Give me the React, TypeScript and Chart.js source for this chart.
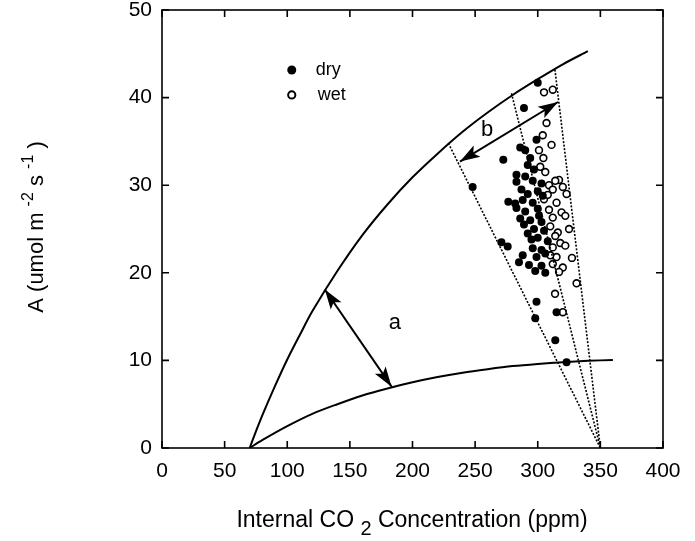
import React, { useEffect, useRef } from "react";
import { Chart, registerables } from "chart.js";
Chart.register(...registerables);

const FONT = "'Liberation Sans', Arial, Helvetica, sans-serif";

const xTicks = [0, 50, 100, 150, 200, 250, 300, 350, 400];
const yTicks = [0, 10, 20, 30, 40, 50];

const upperCurveC = [70, 75, 80, 90, 100, 110, 120, 140, 160, 180, 200, 220, 240, 260, 280, 300, 320, 340];
const upperCurveA = [0, 1.9, 3.7, 7.0, 10.1, 12.9, 15.6, 20.2, 24.3, 27.8, 30.9, 33.6, 36.1, 38.3, 40.3, 42.1, 43.8, 45.3];

const lowerCurveC = [70, 80, 100, 120, 140, 160, 180, 200, 220, 240, 260, 280, 300, 320, 340, 360];
const lowerCurveA = [0, 0.9, 2.5, 3.9, 5.0, 6.0, 6.8, 7.5, 8.1, 8.6, 9.0, 9.35, 9.6, 9.8, 9.95, 10.05];

const dottedTopC = [228.6, 279, 313.7];
const dottedTopA = [34.8, 40.5, 43.2];
const dottedBaseC = 350;
const dottedBaseA = 0;

const dryC = [300, 289, 299, 286, 290, 272.5, 294, 292, 283, 290, 283, 296, 303, 248, 292, 300, 276.5, 282, 288, 296, 283, 290, 300, 286, 294, 303, 297, 305, 300, 308, 271, 276, 296, 303, 288, 299, 306, 285, 293, 303, 298, 306, 299, 315, 298, 314, 323, 297, 287, 301, 292, 304, 295, 289];
const dryA = [41.7, 38.8, 35.2, 34.3, 34.0, 32.9, 33.1, 32.3, 31.2, 31.0, 30.4, 30.5, 30.2, 29.8, 29.0, 29.3, 28.1, 27.9, 28.3, 28.0, 27.4, 27.0, 27.3, 26.2, 26.0, 25.8, 25.0, 24.8, 24.0, 23.6, 23.5, 23.0, 22.8, 22.6, 22.0, 21.8, 22.2, 21.2, 20.9, 20.8, 20.2, 20.0, 16.7, 15.5, 14.8, 12.3, 9.8, 31.8, 29.5, 26.5, 24.5, 28.8, 23.8, 25.5];

const wetC = [305, 312, 307, 304, 311, 301, 304.5, 302, 306, 317, 309, 312, 320, 323, 305, 315, 309, 319, 312, 322, 310, 316, 325, 314, 318, 312, 322, 315, 327.3, 312, 320, 317, 331, 313.8, 320, 308, 314, 310];
const wetA = [40.6, 40.9, 37.1, 35.7, 34.6, 34.0, 33.1, 32.1, 31.5, 30.6, 30.0, 29.5, 29.8, 29.0, 28.4, 28.0, 27.2, 26.9, 26.3, 26.5, 25.3, 24.6, 25.0, 24.2, 23.4, 22.9, 23.1, 21.8, 21.7, 21.0, 20.6, 20.1, 18.8, 17.6, 15.5, 28.9, 30.5, 22.0];

const arrowStartC = [130, 316.2];
const arrowStartA = [18.1, 39.5];
const arrowEndC = [183.3, 237.9];
const arrowEndA = [7.0, 32.7];

const arrowLabels = ["a", "b"];
const arrowLabelC = [186, 259.5];
const arrowLabelA = [14.3, 36.3];

const legendLabels = ["dry", "wet"];
const legendC = [103.6, 103.6];
const legendA = [43.15, 40.3];

const xTitleParts = ["Internal CO ", "2", " Concentration (ppm)"];
const yTitleParts = ["A (umol m ", "-2", " s ", "-1", " )"];

type Seg = { t: string; sup?: number };

function drawRich(ctx: CanvasRenderingContext2D, segs: Seg[], size: number, subSize: number, cx: number, cy: number, rot: number) {
  ctx.save();
  ctx.translate(cx, cy);
  ctx.rotate(rot);
  ctx.fillStyle = "#000";
  ctx.textBaseline = "middle";
  ctx.textAlign = "left";
  let total = 0;
  const widths = segs.map((s) => {
    ctx.font = `${s.sup ? subSize : size}px ${FONT}`;
    const w = ctx.measureText(s.t).width;
    total += w;
    return w;
  });
  let x = -total / 2;
  segs.forEach((s, i) => {
    ctx.font = `${s.sup ? subSize : size}px ${FONT}`;
    ctx.fillText(s.t, x, s.sup ? s.sup : 0);
    x += widths[i];
  });
  ctx.restore();
}

function arrowHead(ctx: CanvasRenderingContext2D, x1: number, y1: number, x2: number, y2: number) {
  const ang = Math.atan2(y2 - y1, x2 - x1);
  const len = 20;
  const hw = 6.5;
  ctx.beginPath();
  ctx.moveTo(x2, y2);
  ctx.lineTo(x2 - len * Math.cos(ang) + hw * Math.sin(ang), y2 - len * Math.sin(ang) - hw * Math.cos(ang));
  ctx.lineTo(x2 - len * 0.78 * Math.cos(ang), y2 - len * 0.78 * Math.sin(ang));
  ctx.lineTo(x2 - len * Math.cos(ang) - hw * Math.sin(ang), y2 - len * Math.sin(ang) + hw * Math.cos(ang));
  ctx.closePath();
  ctx.fill();
}

const decorPlugin = {
  id: "decor",
  afterDatasetsDraw(chart: any) {
    const ctx: CanvasRenderingContext2D = chart.ctx;
    const xs = chart.scales.x;
    const ys = chart.scales.y;
    const { left, right, top, bottom } = chart.chartArea;
    ctx.save();
    ctx.strokeStyle = "#000";
    ctx.fillStyle = "#000";
    ctx.lineWidth = 1.6;
    ctx.strokeRect(left, top, right - left, bottom - top);
    const tl = 7;
    ctx.beginPath();
    xTicks.forEach((v) => {
      const px = xs.getPixelForValue(v);
      ctx.moveTo(px, bottom);
      ctx.lineTo(px, bottom - tl);
      ctx.moveTo(px, top);
      ctx.lineTo(px, top + tl);
    });
    yTicks.forEach((v) => {
      const py = ys.getPixelForValue(v);
      ctx.moveTo(left, py);
      ctx.lineTo(left + tl, py);
      ctx.moveTo(right, py);
      ctx.lineTo(right - tl, py);
    });
    ctx.stroke();
    ctx.lineWidth = 2;
    arrowStartC.forEach((c, i) => {
      const x1 = xs.getPixelForValue(c);
      const y1 = ys.getPixelForValue(arrowStartA[i]);
      const x2 = xs.getPixelForValue(arrowEndC[i]);
      const y2 = ys.getPixelForValue(arrowEndA[i]);
      ctx.beginPath();
      ctx.moveTo(x1, y1);
      ctx.lineTo(x2, y2);
      ctx.stroke();
      arrowHead(ctx, x1, y1, x2, y2);
      arrowHead(ctx, x2, y2, x1, y1);
    });
    ctx.font = `22px ${FONT}`;
    ctx.textAlign = "center";
    ctx.textBaseline = "middle";
    arrowLabels.forEach((t, i) => {
      ctx.fillText(t, xs.getPixelForValue(arrowLabelC[i]), ys.getPixelForValue(arrowLabelA[i]));
    });
    legendLabels.forEach((t, i) => {
      const px = xs.getPixelForValue(legendC[i]);
      const py = ys.getPixelForValue(legendA[i]);
      ctx.beginPath();
      if (i === 0) {
        ctx.arc(px, py, 4.5, 0, Math.PI * 2);
        ctx.fill();
      } else {
        ctx.lineWidth = 2;
        ctx.arc(px, py, 3.6, 0, Math.PI * 2);
        ctx.stroke();
      }
      ctx.font = `18px ${FONT}`;
      ctx.textAlign = "left";
      ctx.fillText(t, px + (i === 0 ? 24 : 26), py);
    });
    ctx.restore();
  },
  afterDraw(chart: any) {
    const ctx: CanvasRenderingContext2D = chart.ctx;
    drawRich(
      ctx,
      [{ t: xTitleParts[0] }, { t: xTitleParts[1], sup: 8 }, { t: xTitleParts[2] }],
      23, 20, 412, 521, 0
    );
    drawRich(
      ctx,
      [{ t: yTitleParts[0] }, { t: yTitleParts[1], sup: -8 }, { t: yTitleParts[2] }, { t: yTitleParts[3], sup: -8 }, { t: yTitleParts[4] }],
      22, 16, 37, 227, -Math.PI / 2
    );
  },
};

export default function App() {
  const ref = useRef<HTMLCanvasElement | null>(null);
  useEffect(() => {
    document.body.style.margin = "0";
    document.body.style.overflow = "hidden";
    const canvas = ref.current;
    if (!canvas) return;
    const line = (cs: number[], as: number[], extra: any = {}) => ({
      type: "line" as const,
      data: cs.map((c, i) => ({ x: c, y: as[i] })),
      borderColor: "#000",
      borderWidth: 2,
      pointRadius: 0,
      fill: false,
      tension: 0.3,
      ...extra,
    });
    const datasets: any[] = [
      line(upperCurveC, upperCurveA),
      line(lowerCurveC, lowerCurveA),
      ...dottedTopC.map((c, i) =>
        line([c, dottedBaseC], [dottedTopA[i], dottedBaseA], { borderDash: [2, 1.6], borderWidth: 1.6, tension: 0 })
      ),
      {
        type: "scatter",
        data: dryC.map((c, i) => ({ x: c, y: dryA[i] })),
        pointRadius: 4,
        pointBackgroundColor: "#000",
        pointBorderColor: "#000",
        pointBorderWidth: 0,
      },
      {
        type: "scatter",
        data: wetC.map((c, i) => ({ x: c, y: wetA[i] })),
        pointRadius: 3.4,
        pointBackgroundColor: "#fff",
        pointBorderColor: "#000",
        pointBorderWidth: 1.6,
      },
    ];
    const chart = new Chart(canvas, {
      type: "scatter",
      data: { datasets },
      options: {
        animation: false,
        responsive: false,
        devicePixelRatio: 1,
        layout: { padding: { top: 10, right: 32, left: 0, bottom: 0 } },
        plugins: { legend: { display: false }, tooltip: { enabled: false } },
        scales: {
          x: {
            type: "linear",
            min: 0,
            max: 400,
            ticks: { stepSize: 50, color: "#000", font: { family: FONT, size: 21 }, padding: 11, maxRotation: 0 },
            grid: { display: false, drawTicks: false },
            border: { display: false },
            afterFit: (s: any) => {
              s.height = 93;
              s.paddingLeft = 0;
              s.paddingRight = 0;
            },
          },
          y: {
            type: "linear",
            min: 0,
            max: 50,
            ticks: { stepSize: 10, color: "#000", font: { family: FONT, size: 21 }, padding: 10 },
            grid: { display: false, drawTicks: false },
            border: { display: false },
            afterFit: (s: any) => {
              s.width = 162;
              s.paddingTop = 0;
              s.paddingBottom = 0;
            },
          },
        },
      },
      plugins: [decorPlugin],
    });
    return () => chart.destroy();
  }, []);
  return (
    <div style={{ width: 695, height: 541, background: "#fff" }}>
      <canvas ref={ref} width={695} height={541} style={{ display: "block" }} />
    </div>
  );
}
